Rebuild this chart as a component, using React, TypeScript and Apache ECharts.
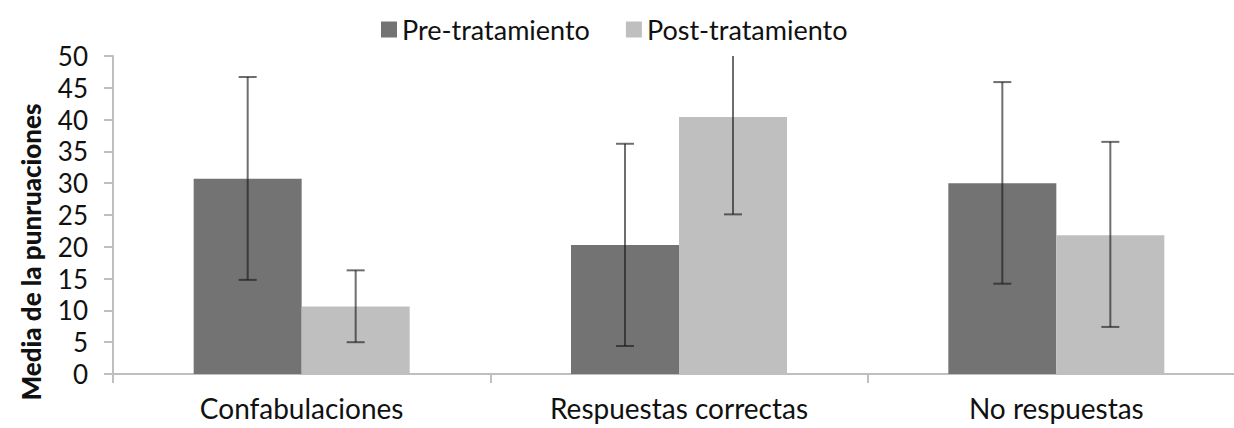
import React, { useEffect, useRef } from "react";
import * as echarts from "echarts";

const categories = ["Confabulaciones", "Respuestas correctas", "No respuestas"];
const seriesNames = ["Pre-tratamiento", "Post-tratamiento"];
const preValues = [30.7, 20.3, 30.0];
const postValues = [10.6, 40.4, 21.8];
const preLow = [14.8, 4.4, 14.2];
const preHigh = [46.7, 36.2, 45.9];
const postLow = [5.0, 25.1, 7.4];
const postHigh = [16.3, 55.6, 36.5];
const yTicks = [0, 50, 5];

const FONT = "Lato, 'Open Sans', sans-serif";

export default function App() {
  const ref = useRef<HTMLDivElement>(null);
  useEffect(() => {
    document.body.style.margin = "0";
    if (!ref.current) return;
    const chart = echarts.init(ref.current, null, { renderer: "svg" });
    const barW = 108;
    const errColor = "rgba(25,25,25,0.63)";
    const makeErr = (low: number[], high: number[], offset: number) => ({
      type: "custom",
      clip: true,
      z: 5,
      data: categories.map((_, i) => [i, low[i], high[i]]),
      encode: { x: 0, y: [1, 2] },
      renderItem: (params: any, api: any) => {
        const i = api.value(0);
        const lo = api.coord([i, api.value(1)]);
        const hi = api.coord([i, api.value(2)]);
        const x = lo[0] + offset;
        const half = 9;
        const style = { stroke: errColor, lineWidth: 2 };
        return {
          type: "group",
          children: [
            { type: "line", shape: { x1: x, y1: hi[1], x2: x, y2: lo[1] }, style },
            { type: "line", shape: { x1: x - half, y1: hi[1], x2: x + half, y2: hi[1] }, style },
            { type: "line", shape: { x1: x - half, y1: lo[1], x2: x + half, y2: lo[1] }, style },
          ],
        };
      },
    });
    chart.setOption({
      animation: false,
      textStyle: { fontFamily: FONT },
      legend: {
        top: 11,
        left: 376,
        itemWidth: 16,
        itemHeight: 16,
        itemGap: 36,
        icon: "rect",
        textStyle: { fontFamily: FONT, fontSize: 27, color: "#111" },
        data: seriesNames,
      },
      grid: { left: 113, top: 56, width: 1132, height: 318, outerBoundsMode: "none", containLabel: false },
      xAxis: {
        type: "category",
        data: categories,
        axisLine: { lineStyle: { color: "#bfbfbf", width: 2 } },
        axisTick: { show: true, length: 9, lineStyle: { color: "#bfbfbf", width: 2 } },
        axisLabel: { fontFamily: FONT, fontSize: 28, color: "#111", margin: 20 },
      },
      yAxis: {
        type: "value",
        min: yTicks[0],
        max: yTicks[1],
        interval: yTicks[2],
        splitLine: { show: false },
        axisLine: { show: true, lineStyle: { color: "#bfbfbf", width: 2 } },
        axisTick: { show: true, length: 9, lineStyle: { color: "#bfbfbf", width: 2 } },
        axisLabel: { fontFamily: FONT, fontSize: 26, lineHeight: 28, color: "#111", margin: 25 },
      },
      graphic: [
        {
          type: "text",
          x: 31,
          y: 252,
          rotation: Math.PI / 2,
          style: {
            text: "Media de la punruaciones",
            font: `900 26px ${FONT}`,
            fill: "#111",
            align: "center",
            verticalAlign: "middle",
          },
        },
      ],
      series: [
        {
          name: seriesNames[0],
          type: "bar",
          data: preValues,
          barWidth: barW,
          barGap: "0%",
          itemStyle: { color: "#737373" },
        },
        {
          name: seriesNames[1],
          type: "bar",
          data: postValues,
          barWidth: barW,
          barGap: "0%",
          itemStyle: { color: "#bfbfbf" },
        },
        makeErr(preLow, preHigh, -barW / 2),
        makeErr(postLow, postHigh, barW / 2),
      ],
    });
    return () => chart.dispose();
  }, []);
  return <div ref={ref} style={{ width: 1234, height: 428 }} />;
}
